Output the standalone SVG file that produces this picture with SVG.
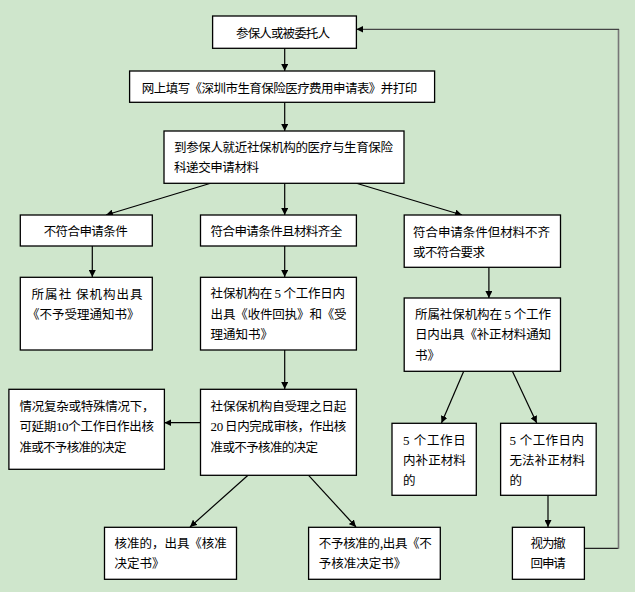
<svg xmlns="http://www.w3.org/2000/svg" width="635" height="592" viewBox="0 0 635 592">
<defs>
<marker id="ah" viewBox="0 0 10 10" refX="10" refY="5" markerWidth="7" markerHeight="7" markerUnits="userSpaceOnUse" orient="auto">
<path d="M0,0 L10,5 L0,10 z" fill="#000"/>
</marker>
<style>
.b{fill:#fff;stroke:#000;stroke-width:1.3}
.t{font-family:"Noto Sans CJK SC","Noto Sans",sans-serif;font-size:12.5px;fill:#000}
.n{font-family:"Liberation Serif",serif;font-size:13px}
.c{stroke:#000;stroke-width:1.2;fill:none;marker-end:url(#ah)}
</style>
</defs>
<rect width="635" height="592" fill="#cfe6cc"/>

<g id="connectors">
<line class="c" x1="284.7" y1="48" x2="284.7" y2="71"/>
<line class="c" x1="284.7" y1="102" x2="284.7" y2="131"/>
<line class="c" x1="210.6" y1="183.3" x2="106" y2="215"/>
<line class="c" x1="284.7" y1="183.3" x2="284.7" y2="215"/>
<line class="c" x1="356.4" y1="183.3" x2="462" y2="215"/>
<line class="c" x1="92.3" y1="246" x2="92.3" y2="277"/>
<line class="c" x1="284.7" y1="246" x2="284.7" y2="277"/>
<line class="c" x1="488.9" y1="267" x2="488.9" y2="298"/>
<line class="c" x1="284.7" y1="350" x2="284.7" y2="389"/>
<line class="c" x1="200.5" y1="422.7" x2="164.4" y2="422.7"/>
<line class="c" x1="248" y1="475.3" x2="190" y2="527"/>
<line class="c" x1="308.6" y1="475.3" x2="356" y2="527"/>
<line class="c" x1="463.7" y1="371.3" x2="441.5" y2="423"/>
<line class="c" x1="512.4" y1="371.3" x2="536.7" y2="423"/>
<line class="c" x1="548" y1="495.3" x2="548" y2="527"/>
<polyline points="584.4,548.3 618.5,548.3" stroke="#222" stroke-width="1.2" fill="none"/>
<line x1="618.5" y1="548.8" x2="618.5" y2="29" stroke="#777" stroke-width="1.6"/>
<line class="c" x1="619" y1="29.3" x2="356.4" y2="29.3" style="stroke:#444"/>
</g>

<g id="n1"><rect class="b" x="212.6" y="16" width="143.8" height="32.3"/>
<text class="t" x="236" y="37.5" textLength="94">参保人或被委托人</text></g>

<g id="n2"><rect class="b" x="129.6" y="71" width="305" height="31.3"/>
<text class="t" x="141.8" y="92.5" textLength="275.4">网上填写《深圳市生育保险医疗费用申请表》并打印</text></g>

<g id="n3"><rect class="b" x="164" y="131" width="240" height="52.3"/>
<text class="t" x="174" y="152" textLength="219">到参保人就近社保机构的医疗与生育保险</text>
<text class="t" x="174" y="172" textLength="85">科递交申请材料</text></g>

<g id="n4"><rect class="b" x="20.3" y="215" width="132" height="31"/>
<text class="t" x="43.7" y="236" textLength="84">不符合申请条件</text></g>

<g id="n5"><rect class="b" x="200.5" y="215" width="155.9" height="31"/>
<text class="t" x="210.6" y="236" textLength="131.6">符合申请条件且材料齐全</text></g>

<g id="n6"><rect class="b" x="404.2" y="215" width="156.3" height="52.3"/>
<text class="t" x="413" y="236.5" textLength="137">符合申请条件但材料不齐</text>
<text class="t" x="413" y="256.5" textLength="72">或不符合要求</text></g>

<g id="n7"><rect class="b" x="20.3" y="277.3" width="132" height="72.7"/>
<text class="t" x="31.6" y="298.5" textLength="111">所属社 保机构出具</text>
<text class="t" x="27" y="318.5">《不予受理通知书》</text></g>

<g id="n8"><rect class="b" x="200.5" y="277.3" width="155.9" height="72.7"/>
<text class="t" x="210.6" y="297.5" textLength="134.5">社保机构在 <tspan class="n">5</tspan> 个工作日内</text>
<text class="t" x="210.6" y="318.5" textLength="136">出具《收件回执》和《受</text>
<text class="t" x="210.6" y="338.5">理通知书》</text></g>

<g id="n9"><rect class="b" x="404.2" y="298" width="156.3" height="73.3"/>
<text class="t" x="415" y="318.5" textLength="136">所属社保机构在 <tspan class="n">5</tspan> 个工作</text>
<text class="t" x="415" y="339" textLength="136">日内出具《补正材料通知</text>
<text class="t" x="415" y="359.5">书》</text></g>

<g id="n10"><rect class="b" x="8.9" y="389.3" width="155.5" height="80"/>
<text class="t" x="19.4" y="410.5" textLength="135">情况复杂或特殊情况下，</text>
<text class="t" x="19.4" y="431" textLength="134.5">可延期<tspan class="n">10</tspan>个工作日作出核</text>
<text class="t" x="19.4" y="452" textLength="107">准或不予核准的决定</text></g>

<g id="n11"><rect class="b" x="200.5" y="389.3" width="155.9" height="86"/>
<text class="t" x="210.6" y="410.5" textLength="135.7">社保保机构自受理之日起</text>
<text class="t" x="210.6" y="431" textLength="135.7"><tspan class="n">20</tspan> 日内完成审核，作出核</text>
<text class="t" x="210.6" y="452" textLength="107.4">准或不予核准的决定</text></g>

<g id="n12"><rect class="b" x="392" y="423.3" width="84.3" height="72"/>
<text class="t" x="403" y="444.5" textLength="62.8"><tspan class="n">5</tspan> 个工作日</text>
<text class="t" x="403" y="464.5" textLength="62.8">内补正材料</text>
<text class="t" x="403" y="484.5">的</text></g>

<g id="n13"><rect class="b" x="500.6" y="423.3" width="95.6" height="72"/>
<text class="t" x="509.5" y="444.5" textLength="74.5"><tspan class="n">5</tspan> 个工作日内</text>
<text class="t" x="509.5" y="464.5" textLength="75.5">无法补正材料</text>
<text class="t" x="509.5" y="484.5">的</text></g>

<g id="n14"><rect class="b" x="512.4" y="527.3" width="72" height="52"/>
<text class="t" x="530.6" y="547.5" textLength="35.2">视为撤</text>
<text class="t" x="530.6" y="567.5" textLength="35.2">回申请</text></g>

<g id="n15"><rect class="b" x="104.5" y="527.3" width="132" height="52"/>
<text class="t" x="114.6" y="547.5" textLength="112.2">核准的，出具《核准</text>
<text class="t" x="114.6" y="567.5">决定书》</text></g>

<g id="n16"><rect class="b" x="308.6" y="527.3" width="131.7" height="52"/>
<text class="t" x="318.8" y="547.5" textLength="113">不予核准的,出具《不</text>
<text class="t" x="318.8" y="567.5">予核准决定书》</text></g>
</svg>
